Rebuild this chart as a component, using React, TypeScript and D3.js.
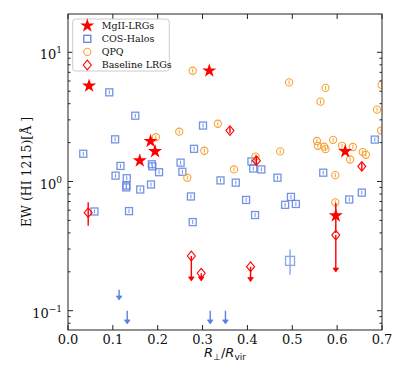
import React from 'react'
import * as d3 from 'd3'

// MgII-LRGs (stars)
const mgX = [0.047, 0.315, 0.184, 0.194, 0.16, 0.618, 0.597]
const mgY = [5.5, 7.2, 2.05, 1.71, 1.45, 1.71, 0.544]
const mgLo = [null, null, null, null, null, null, 0.4]
const mgHi = [null, null, null, null, null, null, 0.682]

// COS-Halos (squares)
const cosX = [
  0.092, 0.15, 0.105, 0.034, 0.117, 0.106, 0.131, 0.187, 0.188, 0.203,
  0.301, 0.281, 0.251, 0.255, 0.13, 0.13, 0.161, 0.185, 0.274, 0.059,
  0.136, 0.278, 0.34, 0.374, 0.397, 0.417, 0.467, 0.497, 0.484, 0.508,
  0.495, 0.627, 0.655, 0.684, 0.569, 0.409, 0.413, 0.431,
]
const cosY = [
  4.9, 3.23, 2.12, 1.64, 1.32, 1.11, 1.06, 1.36, 1.31, 1.18,
  2.71, 1.79, 1.4, 1.19, 0.93, 0.9, 0.867, 0.948, 0.766, 0.586,
  0.59, 0.485, 1.02, 0.98, 0.72, 0.55, 1.07, 0.76, 0.66, 0.67,
  0.243, 0.726, 0.82, 2.11, 1.17, 1.43, 1.26, 1.24,
]
const cosErrIdx = 30
const cosErrLo = 0.19
const cosErrHi = 0.297

// COS-Halos upper limits (arrows)
const cosUlX = [0.114, 0.132, 0.317, 0.351]
const cosUlTop = [0.145, 0.1, 0.1, 0.1]
const cosUlEnd = [0.121, 0.079, 0.079, 0.079]

// QPQ (circles)
const qpqX = [
  0.493, 0.574, 0.563, 0.699, 0.689, 0.698, 0.334, 0.304, 0.418, 0.473,
  0.37, 0.555, 0.557, 0.571, 0.574, 0.591, 0.611, 0.635, 0.657, 0.664,
  0.629, 0.596, 0.596, 0.278, 0.248, 0.266, 0.196,
]
const qpqY = [
  5.85, 5.3, 4.15, 5.6, 3.6, 2.48, 2.8, 1.73, 1.56, 1.71,
  1.24, 2.06, 1.89, 1.86, 1.78, 2.1, 1.89, 1.85, 1.69, 1.61,
  1.48, 1.12, 0.69, 7.2, 2.43, 1.07, 2.2,
]

// Baseline LRGs (diamonds)
const blX = [0.045, 0.361, 0.42, 0.655, 0.275, 0.297, 0.407, 0.597]
const blY = [0.574, 2.48, 1.45, 1.31, 0.265, 0.195, 0.219, 0.385]
const blLo = [0.455, 2.36, 1.34, 1.23, 0.17, 0.17, 0.168, 0.199]
const blHi = [0.69, 2.66, 1.57, 1.4, null, null, null, null]
const blUplim = [false, false, false, false, true, true, true, true]

const xTicks = [0, 0.1, 0.2, 0.3, 0.4, 0.5, 0.6, 0.7]
const yMajor = [0.1, 1, 10]
const yMajorExp = ['\u22121', '0', '1']
const yMinor = [0.08, 0.09, 0.2, 0.3, 0.4, 0.5, 0.6, 0.7, 0.8, 0.9, 2, 3, 4, 5, 6, 7, 8, 9]

const legendLabels = ['MgII-LRGs', 'COS-Halos', 'QPQ', 'Baseline LRGs']

const W = 407
const H = 378
const L = 68
const R = 382
const T = 14
const B = 330

const RED = '#ff0000'
const BLUE = '#5b80e2'
const ORANGE = '#f7a233'
const serif = '"DejaVu Serif", serif'

const x = d3.scaleLinear().domain([0, 0.7]).range([L, R])
const y = d3.scaleLog().domain([0.0709, 19.79]).range([B, T])

const starPath = d3.symbol(d3.symbolStar, 62)()
const diamond = (w: number, h: number) => `M0,${-h}L${w},0L0,${h}L${-w},0Z`

const Arrow = ({ cx, y0, y1, color }) => (
  <g>
    <line x1={cx} x2={cx} y1={y0} y2={y1 - 3} stroke={color} strokeWidth={1.4} />
    <path d={`M${cx - 2.8},${y1 - 4}L${cx + 2.8},${y1 - 4}L${cx},${y1}Z`} fill={color} stroke={color} strokeWidth={0.8} />
  </g>
)

const Square = ({ cx, cy, s = 7 }) => (
  <rect x={cx - s / 2} y={cy - s / 2} width={s} height={s} fill="none" stroke={BLUE} strokeWidth={1.3} />
)

export default function App() {
  const fmt = d3.format('.1f')
  return (
    <svg width={W} height={H} style={{ position: 'absolute', left: 0, top: 0, background: '#fff' }}>
      <defs>
        <clipPath id="plot">
          <rect x={L} y={T} width={R - L} height={B - T} />
        </clipPath>
      </defs>

      <g clipPath="url(#plot)">
        {/* COS-Halos */}
        {cosX.map((d, i) => {
          const cx = x(d)
          const cy = y(cosY[i])
          if (i === cosErrIdx) {
            return (
              <g key={'c' + i} opacity={0.7}>
                <line x1={cx} x2={cx} y1={y(cosErrHi)} y2={y(cosErrLo)} stroke={BLUE} strokeWidth={1.4} />
                <Square cx={cx} cy={cy} s={9} />
              </g>
            )
          }
          return (
            <g key={'c' + i} opacity={0.85}>
              <Square cx={cx} cy={cy} />
              <line x1={cx} x2={cx} y1={cy - 2} y2={cy + 2} stroke={BLUE} strokeWidth={1} />
            </g>
          )
        })}
        {cosUlX.map((d, i) => (
          <Arrow key={'u' + i} cx={x(d)} y0={y(cosUlTop[i])} y1={y(cosUlEnd[i])} color={BLUE} />
        ))}

        {/* QPQ */}
        {qpqX.map((d, i) => {
          const cx = x(d)
          const cy = y(qpqY[i])
          return (
            <g key={'q' + i}>
              <circle cx={cx} cy={cy} r={3.6} fill="none" stroke={ORANGE} strokeWidth={1.1} />
              <line x1={cx} x2={cx} y1={cy - 2} y2={cy + 2} stroke={ORANGE} strokeWidth={1} />
            </g>
          )
        })}

        {/* Baseline LRGs */}
        {blX.map((d, i) => {
          const cx = x(d)
          const cy = y(blY[i])
          return (
            <g key={'b' + i}>
              {blUplim[i] ? (
                <Arrow cx={cx} y0={cy} y1={y(blLo[i])} color={RED} />
              ) : (
                <line x1={cx} x2={cx} y1={y(blHi[i])} y2={y(blLo[i])} stroke={RED} strokeWidth={1.4} />
              )}
              <path d={diamond(4, 4.8)} transform={`translate(${cx},${cy})`} fill="none" stroke={RED} strokeWidth={1.1} />
            </g>
          )
        })}

        {/* MgII-LRGs */}
        {mgX.map((d, i) => {
          const cx = x(d)
          const cy = y(mgY[i])
          return (
            <g key={'m' + i}>
              {mgLo[i] != null && (
                <line x1={cx} x2={cx} y1={y(mgHi[i])} y2={y(mgLo[i])} stroke={RED} strokeWidth={1.5} />
              )}
              <path d={starPath} transform={`translate(${cx},${cy})`} fill={RED} />
            </g>
          )
        })}
      </g>

      {/* frame and ticks */}
      <rect x={L} y={T} width={R - L} height={B - T} fill="none" stroke="#222" strokeWidth={1} />
      {xTicks.map((t) => (
        <g key={'xt' + t}>
          <line x1={x(t)} x2={x(t)} y1={B} y2={B - 5} stroke="#222" />
          <line x1={x(t)} x2={x(t)} y1={T} y2={T + 5} stroke="#222" />
          <text x={x(t)} y={343.5} textAnchor="middle" fontFamily={serif} fontSize={13} fill="#111">
            {fmt(t)}
          </text>
        </g>
      ))}
      {yMajor.map((t, i) => (
        <g key={'ym' + t}>
          <line x1={L} x2={L + 5} y1={y(t)} y2={y(t)} stroke="#222" />
          <line x1={R} x2={R - 5} y1={y(t)} y2={y(t)} stroke="#222" />
          <text x={62} y={y(t) + 7} textAnchor="end" fontFamily={serif} fontSize={13} fill="#111">
            10
            <tspan fontSize={9} dy={-6}>{yMajorExp[i]}</tspan>
          </text>
        </g>
      ))}
      {yMinor.map((t) => (
        <g key={'yn' + t}>
          <line x1={L} x2={L + 2.5} y1={y(t)} y2={y(t)} stroke="#222" />
          <line x1={R} x2={R - 2.5} y1={y(t)} y2={y(t)} stroke="#222" />
        </g>
      ))}

      {/* axis labels */}
      <text x={(L + R) / 2} y={357} textAnchor="middle" fontFamily='"DejaVu Sans", sans-serif' fontSize={13} fill="#111">
        <tspan fontStyle="italic">R</tspan>
        <tspan fontSize={9} dy={3}>⊥</tspan>
        <tspan dy={-3}>/</tspan>
        <tspan fontStyle="italic">R</tspan>
        <tspan fontSize={9} dy={3}>vir</tspan>
      </text>
      <text transform={`translate(31,${(T + B) / 2}) rotate(-90)`} textAnchor="middle" fontFamily={serif} fontSize={12.5} fill="#111">
        EW (HI 1215)[Å ]
      </text>

      {/* legend */}
      <g>
        <rect x={72.7} y={19} width={96.6} height={52} rx={3} fill="#fff" fillOpacity={0.85} stroke="#ccc" strokeWidth={1} />
        {legendLabels.map((lab, i) => {
          const cy = 25.7 + i * 13.1
          const cx = 87.3
          return (
            <g key={'l' + i}>
              {i === 0 && <path d={starPath} transform={`translate(${cx},${cy})`} fill={RED} />}
              {i === 1 && <Square cx={cx} cy={cy} />}
              {i === 2 && <circle cx={cx} cy={cy} r={3.6} fill="none" stroke={ORANGE} strokeWidth={1.1} />}
              {i === 3 && <path d={diamond(4, 4.8)} transform={`translate(${cx},${cy})`} fill="none" stroke={RED} strokeWidth={1.1} />}
              <text x={101.7} y={cy + 3.4} fontFamily={serif} fontSize={9.5} fill="#111">
                {lab}
              </text>
            </g>
          )
        })}
      </g>
    </svg>
  )
}
